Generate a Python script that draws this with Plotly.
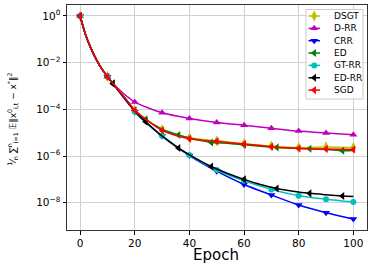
import plotly.graph_objects as go

# ---------------- data ----------------
EPOCH_A = [0, 2, 4, 6, 8, 10, 12, 14, 16, 18, 20, 30, 40, 50, 60, 70, 80, 90, 100]
EPOCH_B = [0, 2, 4, 6, 8, 10, 12, 14, 16, 18, 20, 24, 30, 36, 42, 48, 54, 60, 66,
           72, 78, 84, 90, 96, 100]

COMMON_EARLY = [1.0, 0.158, 0.0398, 0.0132, 5.25e-3, 2.51e-3, 1.32e-3, 6.76e-4,
                3.47e-4, 1.78e-4, 9.12e-5]

DSGT = COMMON_EARLY + [1.32e-5, 6.03e-6, 4.47e-6, 3.39e-6, 2.69e-6, 2.29e-6, 2.45e-6, 2.29e-6]
D_RR = COMMON_EARLY[:7] + [7.59e-4, 4.68e-4, 3.02e-4, 2.04e-4, 7.08e-5, 4.07e-5, 2.75e-5,
                          2.09e-5, 1.55e-5, 1.17e-5, 9.77e-6, 8.13e-6]
CRR = COMMON_EARLY[:10] + [7.94e-5, 7.24e-6, 1.05e-6, 2.24e-7, 6.03e-8, 2.14e-8, 7.94e-9,
                           3.72e-9, 2.00e-9]
ED = COMMON_EARLY + [3.72e-5, 1.41e-5, 7.94e-6, 5.25e-6, 3.80e-6, 3.55e-6, 3.02e-6, 2.63e-6,
                     2.34e-6, 2.19e-6, 2.04e-6, 1.91e-6, 1.70e-6, 1.74e-6]
GT_RR = COMMON_EARLY[:10] + [7.94e-5, 7.41e-6, 1.10e-6, 2.51e-7, 8.71e-8, 3.72e-8, 2.00e-8,
                             1.41e-8, 1.07e-8]
ED_RR = COMMON_EARLY[:6] + [1.26e-3, 6.31e-4, 3.16e-4, 1.58e-4, 8.32e-5, 2.95e-5, 7.08e-6,
                            2.19e-6, 8.32e-7, 3.55e-7, 1.78e-7, 1.0e-7, 6.03e-8, 4.07e-8,
                            3.09e-8, 2.51e-8, 2.19e-8, 1.95e-8, 1.86e-8]
SGD = COMMON_EARLY + [1.26e-5, 5.50e-6, 4.27e-6, 3.24e-6, 2.51e-6, 2.09e-6, 2.00e-6, 1.91e-6]

SERIES = [
    ("DSGT", EPOCH_A, DSGT, 10, "#bfbf00", "diamond-tall", 8),
    ("D-RR", EPOCH_A, D_RR, 10, "#bf00bf", "triangle-up", 7),
    ("CRR", EPOCH_A, CRR, 10, "#0000ff", "triangle-down", 7),
    ("ED", EPOCH_B, ED, 12, "#008000", "triangle-left", 7),
    ("GT-RR", EPOCH_A, GT_RR, 10, "#00bfbf", "circle", 6),
    ("ED-RR", EPOCH_B, ED_RR, 12, "#000000", "triangle-left", 7),
    ("SGD", EPOCH_A, SGD, 10, "#ff0000", "triangle-left", 7),
]

X_TICKS = [0, 20, 40, 60, 80, 100]
Y_TICKS = [1e0, 1e-2, 1e-4, 1e-6, 1e-8]
Y_TICK_TEXT = ["10<sup>0</sup>", "10<sup>\u22122</sup>", "10<sup>\u22124</sup>",
               "10<sup>\u22126</sup>", "10<sup>\u22128</sup>"]

FONT = "DejaVu Sans"

fig = go.Figure()

for name, ep, vals, every, color, sym, msz in SERIES:
    fig.add_trace(go.Scatter(
        x=ep, y=vals, mode="lines", line=dict(color=color, width=1.5, shape="spline", smoothing=0.8),
        showlegend=False, hoverinfo="skip"))
    mx = [e for e in ep if e % every == 0]
    my = [v for e, v in zip(ep, vals) if e % every == 0]
    fig.add_trace(go.Scatter(
        x=mx, y=my, mode="markers", marker=dict(color=color, symbol=sym, size=msz, line=dict(width=0)),
        showlegend=False, hoverinfo="skip"))

# ---------------- hand-built legend on a pixel-like overlay axis ----------------
LEG_LEFT, LEG_RIGHT, LEG_TOP, LEG_BOTTOM = 306, 363, 9.5, 99
ROW0, ROW_STEP = 16, 12.35
fig.add_trace(go.Scatter(
    x=[LEG_LEFT, LEG_RIGHT, LEG_RIGHT, LEG_LEFT, LEG_LEFT],
    y=[LEG_TOP, LEG_TOP, LEG_BOTTOM, LEG_BOTTOM, LEG_TOP],
    xaxis="x2", yaxis="y2", mode="lines", fill="toself", fillcolor="rgba(255,255,255,0.85)",
    line=dict(color="#cccccc", width=1), showlegend=False, hoverinfo="skip"))
for i, (name, ep, vals, every, color, sym, msz) in enumerate(SERIES):
    yy = ROW0 + i * ROW_STEP
    fig.add_trace(go.Scatter(
        x=[308.5, 320], y=[yy, yy], xaxis="x2", yaxis="y2", mode="lines",
        line=dict(color=color, width=1.5), showlegend=False, hoverinfo="skip"))
    fig.add_trace(go.Scatter(
        x=[314.2], y=[yy], xaxis="x2", yaxis="y2", mode="markers",
        marker=dict(color=color, symbol=sym, size=msz, line=dict(width=0)),
        showlegend=False, hoverinfo="skip"))
    fig.add_annotation(x=331.5, y=yy, xref="x2", yref="y2", text=name, showarrow=False,
                       xanchor="left", yanchor="middle",
                       font=dict(family=FONT, size=9, color="#000000"))

# y-axis title
fig.add_annotation(x=-0.18, y=0.49, xref="paper", yref="paper", xanchor="center", yanchor="middle",
                   text="<sup>1</sup>\u2044<sub>n</sub> \u2211<sup>n</sup><sub>i=1</sub> "
                        "\U0001D53C\u2016x<sup>0</sup><sub>i,t</sub> \u2212 x<sup>*</sup>\u2016<sup>2</sup>",
                   textangle=-90, showarrow=False, font=dict(family=FONT, size=9, color="#000000"))
# x-axis title
fig.add_annotation(x=0.495, y=-0.111, xref="paper", yref="paper", xanchor="center", yanchor="middle",
                   text="Epoch", showarrow=False, font=dict(family=FONT, size=15, color="#000000"))

fig.update_layout(
    width=373, height=270,
    margin=dict(l=67, r=6, t=5, b=40, autoexpand=False),
    paper_bgcolor="white", plot_bgcolor="white",
    font=dict(family=FONT, size=10.5, color="#000000"),
    showlegend=False,
    xaxis=dict(range=[-4.8, 105], tickvals=X_TICKS, ticks="outside", ticklen=3.5,
               tickcolor="#000000", showgrid=True, gridcolor="#d0d0d0", gridwidth=0.8,
               showline=True, mirror=True, linecolor="#333333", linewidth=1, zeroline=False,
               automargin=False, tickfont=dict(family=FONT, size=10.5)),
    yaxis=dict(type="log", range=[-9.17, 0.471], tickvals=Y_TICKS, ticktext=Y_TICK_TEXT,
               ticks="outside", ticklen=3.5, tickcolor="#000000", showgrid=True,
               gridcolor="#d0d0d0", gridwidth=0.8, showline=True, mirror=True,
               linecolor="#333333", linewidth=1, zeroline=False, automargin=False,
               tickfont=dict(family=FONT, size=10.5)),
    xaxis2=dict(overlaying="x", range=[67, 367], visible=False, anchor="y2"),
    yaxis2=dict(overlaying="y", range=[230, 5], visible=False, anchor="x2"),
)

fig.write_html("out.html", config={"displayModeBar": False},
               post_script="document.body.style.margin='0';document.body.style.padding='0';")
